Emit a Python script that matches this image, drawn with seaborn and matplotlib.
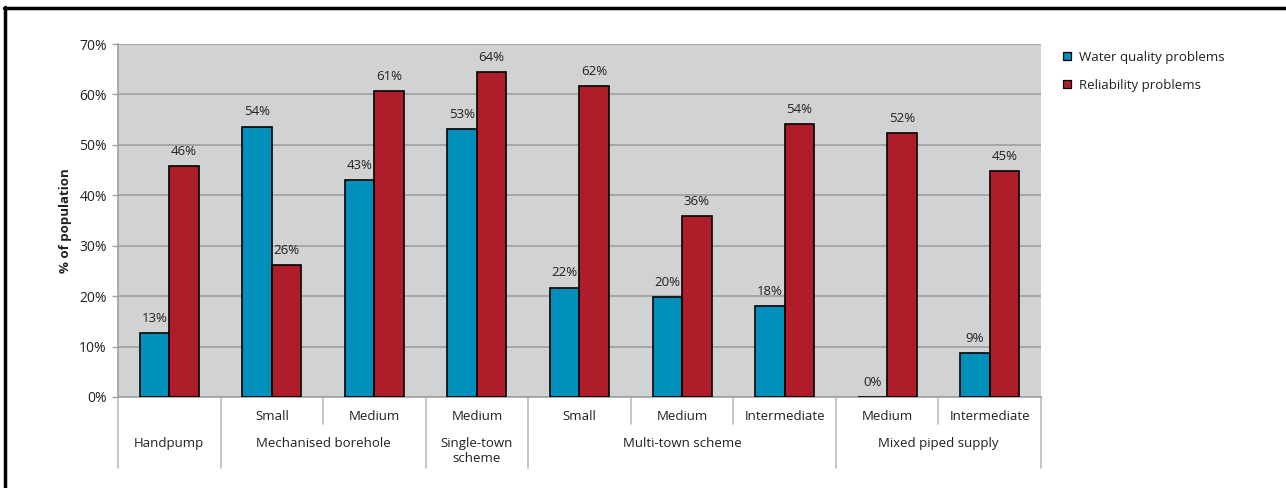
import matplotlib
matplotlib.use("Agg")
import matplotlib.pyplot as plt
import seaborn as sns
import pandas as pd
from matplotlib.lines import Line2D
from matplotlib.ticker import FuncFormatter

# ---- data ----
groups = ["Handpump", "Mechanised borehole", "Mechanised borehole",
          "Single-town\nscheme", "Multi-town scheme", "Multi-town scheme",
          "Multi-town scheme", "Mixed piped supply", "Mixed piped supply"]
subs = ["", "Small", "Medium", "Medium", "Small", "Medium",
        "Intermediate", "Medium", "Intermediate"]
water_quality = [12.7, 53.6, 43.0, 53.1, 21.7, 19.8, 18.0, 0.0, 8.7]
reliability = [45.8, 26.2, 60.7, 64.4, 61.7, 35.9, 54.1, 52.3, 44.8]
series_names = ["Water quality problems", "Reliability problems"]
yticks = [0, 10, 20, 30, 40, 50, 60, 70]

keys = [f"{g}|{s}" for g, s in zip(groups, subs)]
df = pd.DataFrame({
    "key": keys * 2,
    "value": water_quality + reliability,
    "series": [series_names[0]] * len(keys) + [series_names[1]] * len(keys),
})

BLUE = "#0090BB"
RED = "#AF1D2B"
TXT = "#231F20"
GRID = "#9E9FA1"

sns.set_theme(style="white")
plt.rcParams["font.family"] = ["Open Sans", "DejaVu Sans"]

fig = plt.figure(figsize=(12.86, 4.88), dpi=100)
ax = fig.add_axes([118 / 1286, 1 - 397 / 488, (1041 - 118) / 1286, (397 - 44) / 488])
ax.set_facecolor("#D1D2D4")

sns.barplot(data=df, x="key", y="value", hue="series", order=keys,
            hue_order=series_names, palette=[BLUE, RED], width=0.575,
            gap=0, edgecolor="black", linewidth=1.2, saturation=1,
            ax=ax, legend=False, zorder=3)

ax.set_ylim(0, 70)
ax.set_xlim(-0.5, len(keys) - 0.5)
ax.set_yticks(yticks)
ax.yaxis.set_major_formatter(FuncFormatter(lambda v, p: f"{v:.0f}%"))
ax.tick_params(axis="y", labelsize=10, labelcolor=TXT, length=4, width=1,
               color=GRID, left=True, pad=4)
ax.tick_params(axis="x", bottom=False, labelbottom=False)
ax.set_xlabel("")
ax.set_ylabel("% of population", fontsize=9.5, fontweight="bold", color=TXT, labelpad=5)
ax.yaxis.grid(True, color=GRID, linewidth=1.2, zorder=0)
ax.set_axisbelow(True)
for s in ["top", "right"]:
    ax.spines[s].set_visible(False)
ax.spines["left"].set_color(GRID)
ax.spines["bottom"].set_color(GRID)
ax.spines["left"].set_linewidth(1.2)
ax.spines["bottom"].set_linewidth(1.2)

# value labels
for cont, vals in zip(ax.containers, [water_quality, reliability]):
    ax.bar_label(cont, labels=[f"{round(v)}%" for v in vals], padding=6,
                 fontsize=9.5, color=TXT)

# category table below the axis
n = len(keys)
y_sub_line = -27 / 353
y_grp_line = -71 / 353
trans = ax.get_xaxis_transform()
for i, s in enumerate(subs):
    if s:
        ax.text(i, -20 / 353, s, transform=trans, ha="center", va="center",
                fontsize=9.5, color=TXT)
spans = []
start = 0
for i in range(1, n + 1):
    if i == n or groups[i] != groups[start]:
        spans.append((groups[start], start, i - 1))
        start = i
boundaries_grp = set()
for name, a, b in spans:
    boundaries_grp.add(a - 0.5)
    boundaries_grp.add(b + 0.5)
    ax.text((a + b) / 2, -40 / 353, name, transform=trans, ha="center",
            va="top", fontsize=9.5, color=TXT, linespacing=1.15)
    for k in range(a, b):
        ax.add_line(Line2D([k + 0.5, k + 0.5], [0, y_sub_line], transform=trans,
                           color="#BDBEC0", linewidth=1.2, clip_on=False))
for xb in sorted(boundaries_grp):
    ax.add_line(Line2D([xb, xb], [0, y_grp_line], transform=trans,
                       color="#BDBEC0", linewidth=1.2, clip_on=False))

# legend
handles = [Line2D([], [], marker="s", linestyle="none", markersize=6,
                  markerfacecolor=c, markeredgecolor="black", markeredgewidth=0.9)
           for c in [BLUE, RED]]
fig.legend(handles, series_names, loc="upper left",
           bbox_to_anchor=(1062 / 1286, 1 - 51 / 488), frameon=False,
           fontsize=9.5, labelcolor=TXT, handlelength=0.8, handletextpad=0.5,
           labelspacing=1.1, borderpad=0, borderaxespad=0)

# outer frame (top and left lines)
fig.add_artist(Line2D([4 / 1286, 1], [1 - 8 / 488, 1 - 8 / 488],
                      transform=fig.transFigure, color="black", linewidth=2.5))
fig.add_artist(Line2D([5 / 1286, 5 / 1286], [0, 1 - 7 / 488],
                      transform=fig.transFigure, color="black", linewidth=2.5))

fig.savefig("out.png", dpi=100, facecolor="white")
